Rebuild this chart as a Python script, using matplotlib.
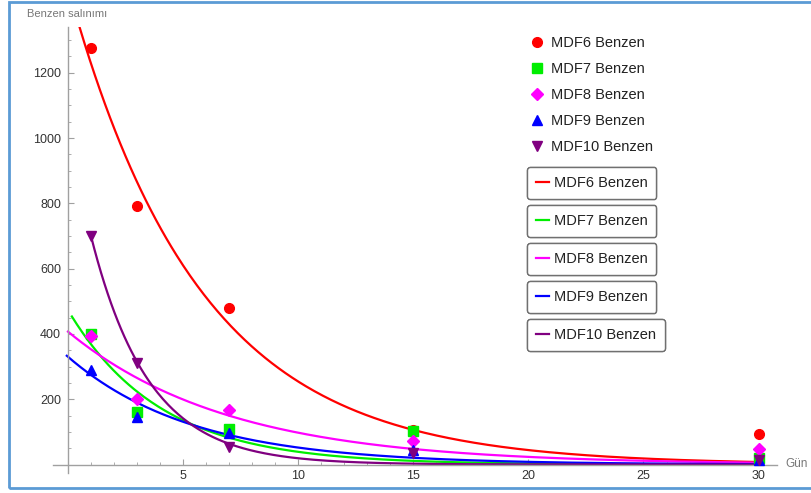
import numpy as np
import matplotlib.pyplot as plt
from matplotlib.lines import Line2D
from matplotlib.patches import Rectangle

plt.rcParams['font.family'] = ['Liberation Sans', 'DejaVu Sans']

# gün değerleri
gun = [1, 3, 7, 15, 30]

# ölçülen benzen salınımı
mdf6 = [1275, 791, 479, 106, 94]
mdf7 = [400, 160, 110, 103, 20]
mdf8 = [395, 200, 167, 72, 48]
mdf9 = [290, 145, 95, 45, 15]
mdf10 = [700, 310, 55, 35, 15]

# uydurulmuş eğriler: a * exp(-b * t), başlangıç günü
fit_a = [1463, 473, 407, 330, 1044]
fit_b = [0.175, 0.25, 0.143, 0.185, 0.40]
fit_start = [0.5, 0.17, 0.0, -0.05, 1.0]

etiketler = ['MDF6 Benzen', 'MDF7 Benzen', 'MDF8 Benzen', 'MDF9 Benzen', 'MDF10 Benzen']
renkler = ['#ff0000', '#00ee00', '#ff00ff', '#0000ff', '#800080']
isaretler = ['o', 's', 'D', '^', 'v']
boyutlar = [7, 6.5, 6.5, 7.5, 7.5]
veriler = [mdf6, mdf7, mdf8, mdf9, mdf10]

W, H = 811, 493
fig = plt.figure(figsize=(W / 100, H / 100), dpi=100)

# eksen alanı (piksel -> şekil koordinatı)
x0, x1, y_top, y_bot = 53, 777, 27, 473
ax = fig.add_axes([x0 / W, 1 - y_bot / H, (x1 - x0) / W, (y_bot - y_top) / H])
ax.set_xlim(-0.65, 30.8)
ax.set_ylim(-26, 1340)

ax.patch.set_alpha(0)
for s in ['top', 'right']:
    ax.spines[s].set_visible(False)
ax.spines['left'].set_position(('data', 0))
ax.spines['bottom'].set_position(('data', 0))
for s in ['left', 'bottom']:
    ax.spines[s].set_color('#a0a0a0')
    ax.spines[s].set_linewidth(1.0)

ax.set_xticks([5, 10, 15, 20, 25, 30])
ax.set_xticks(np.arange(1, 31), minor=True)
ax.set_yticks([200, 400, 600, 800, 1000, 1200])
ax.set_yticks(np.arange(50, 1340, 50), minor=True)
ax.tick_params(which='both', direction='in', color='#a0a0a0', labelsize=9,
               labelcolor='#333333')
ax.tick_params(which='major', length=4, width=0.8)
ax.tick_params(which='minor', length=2.5, width=0.6)
ax.tick_params(axis='y', pad=5)
ax.tick_params(axis='x', pad=4)

# eğriler
for a, b, t0, c in zip(fit_a, fit_b, fit_start, renkler):
    t = np.linspace(t0, 30, 400)
    y = a * np.exp(-b * t)
    ax.plot(t, y, color=c, lw=1.6, clip_on=True, zorder=2)

# noktalar
for v, c, m, ms in zip(veriler, renkler, isaretler, boyutlar):
    ax.plot(gun, v, linestyle='none', marker=m, color=c, markersize=ms,
            clip_on=False, zorder=3)

fig.text(27 / W, 1 - 14 / H, 'Benzen salınımı', fontsize=8, color='#777777',
         va='center', ha='left')
fig.text(785 / W, 1 - 464 / H, 'Gün', fontsize=8.5, color='#777777',
         va='center', ha='left')

# nokta lejantı
nokta_h = [Line2D([], [], linestyle='none', marker=m, color=c, markersize=ms)
           for c, m, ms in zip(renkler, isaretler, boyutlar)]
leg1 = fig.legend(nokta_h, etiketler, loc='upper left',
                  bbox_to_anchor=(530 / W, 1 - 36 / H), frameon=False,
                  fontsize=10.5, labelspacing=0.82, handlelength=1.0,
                  handletextpad=0.45, borderpad=0, borderaxespad=0)
for t in leg1.get_texts():
    t.set_color('#222222')

# çizgi lejantları, her biri ayrı kutuda
kutu_y = [183, 221, 259, 297, 335]
for lab, c, yy in zip(etiketler, renkler, kutu_y):
    lg = fig.legend([Line2D([], [], color=c, lw=1.6)], [lab], loc='center left',
                    bbox_to_anchor=(527 / W, 1 - yy / H), frameon=True,
                    fancybox=True, fontsize=10.5, handlelength=0.9,
                    handletextpad=0.35, borderpad=0.6, borderaxespad=0)
    fr = lg.get_frame()
    fr.set_edgecolor('#707070')
    fr.set_linewidth(1.0)
    fr.set_alpha(1)
    lg.get_texts()[0].set_color('#222222')
    fig.add_artist(lg)

# ekran görüntüsü çerçevesi
fig.add_artist(Rectangle((8.5 / W, 1 - 487.5 / H), 1.0, (487.5 - 1.5) / H,
                         transform=fig.transFigure, fill=False,
                         edgecolor='#5b9bd5', lw=2.0))

fig.savefig('out.png', dpi=100)
